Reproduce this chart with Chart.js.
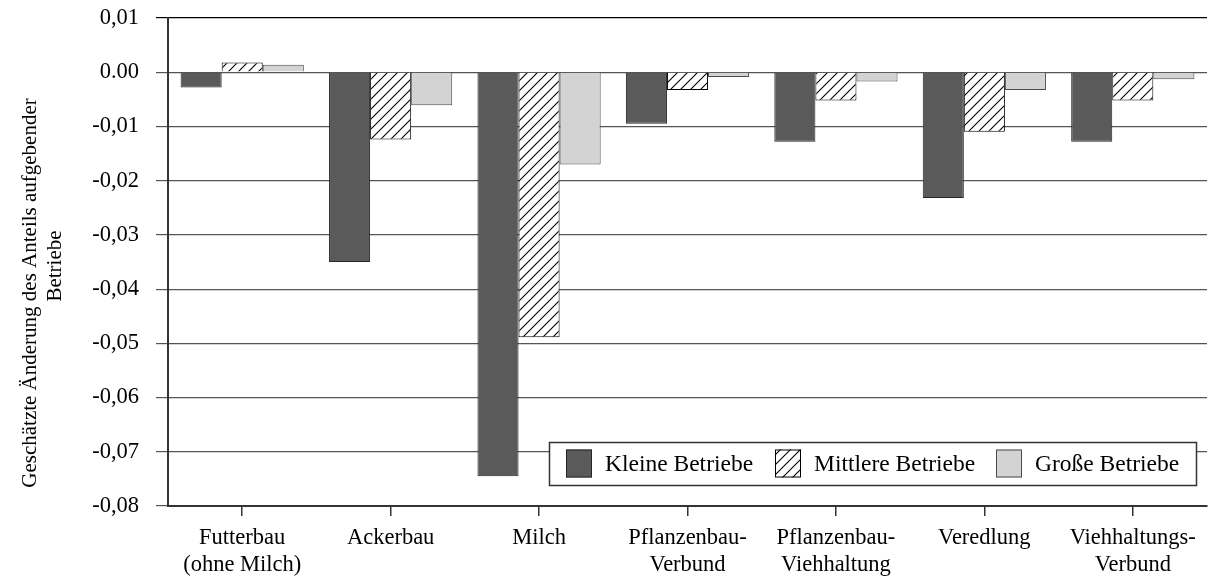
<!DOCTYPE html>
<html>
<head>
<meta charset="utf-8">
<script src="https://cdn.jsdelivr.net/npm/chart.js@4/dist/chart.umd.min.js"></script>
<style>
  html, body { margin: 0; padding: 0; background: #fff; }
  canvas { display: block; }
</style>
</head>
<body>
<canvas id="chart" width="1209" height="578"></canvas>
<script>
const categories = [
    ['Futterbau', '(ohne Milch)'],
    'Ackerbau',
    'Milch',
    ['Pflanzenbau-', 'Verbund'],
    ['Pflanzenbau-', 'Viehhaltung'],
    'Veredlung',
    ['Viehhaltungs-', 'Verbund']
];
const seriesNames = ['Kleine Betriebe', 'Mittlere Betriebe', 'Große Betriebe'];
const kleine = [-0.0028, -0.035, -0.0745, -0.0095, -0.0128, -0.0232, -0.0128];
const mittlere = [0.0018, -0.0124, -0.0489, -0.0033, -0.0052, -0.011, -0.0052];
const grosse = [0.0014, -0.0061, -0.017, -0.0009, -0.0017, -0.0033, -0.0013];
const yAxisTitle = ['Geschätzte Änderung des Anteils aufgebender', 'Betriebe'];

const FONT = 'Liberation Serif, "Times New Roman", serif';

// Schraffur für die mittleren Betriebe
function makeHatch() {
    const c = document.createElement('canvas');
    c.width = 10;
    c.height = 10;
    const g = c.getContext('2d');
    g.fillStyle = '#fff';
    g.fillRect(0, 0, 10, 10);
    g.strokeStyle = '#000';
    g.lineWidth = 1.1;
    g.beginPath();
    g.moveTo(-1, 11); g.lineTo(11, -1);
    g.moveTo(-6, 6); g.lineTo(6, -6);
    g.moveTo(4, 16); g.lineTo(16, 4);
    g.stroke();
    return g.createPattern(c, 'repeat');
}
const hatch = makeHatch();

// Achsentitel: zwei Zeilen, jeweils einzeln zentriert wie im Original
const yTitle = {
    id: 'yTitle',
    afterDraw(chart) {
        const ctx = chart.ctx;
        const pos = [[30, 293], [55, 266]];
        ctx.save();
        ctx.font = '21px ' + FONT;
        ctx.fillStyle = '#000';
        ctx.textAlign = 'center';
        ctx.textBaseline = 'middle';
        yAxisTitle.forEach((line, i) => {
            ctx.save();
            ctx.translate(pos[i][0], pos[i][1]);
            ctx.rotate(-Math.PI / 2);
            ctx.fillText(line, 0, 0);
            ctx.restore();
        });
        ctx.restore();
    }
};

// Legende innerhalb der Zeichenfläche, unten rechts
const boxLegend = {
    id: 'boxLegend',
    afterDraw(chart) {
        const ctx = chart.ctx;
        const x0 = 549, y0 = 442, x1 = 1196, y1 = 485;
        ctx.save();
        ctx.fillStyle = '#fff';
        ctx.fillRect(x0, y0, x1 - x0, y1 - y0);
        ctx.strokeStyle = '#333';
        ctx.lineWidth = 1.5;
        ctx.strokeRect(x0 + 0.5, y0 + 0.5, x1 - x0, y1 - y0);
        ctx.font = '23.5px ' + FONT;
        ctx.textBaseline = 'middle';
        const cy = (y0 + y1) / 2;
        const swatchX = [566, 775, 996];
        chart.data.datasets.forEach((ds, i) => {
            const sx = swatchX[i];
            ctx.fillStyle = ds.backgroundColor;
            ctx.fillRect(sx, cy - 14, 26, 28);
            ctx.strokeStyle = ds.borderColor;
            ctx.lineWidth = 1;
            ctx.strokeRect(sx + 0.5, cy - 13.5, 25, 27);
            ctx.fillStyle = '#000';
            ctx.fillText(ds.label, sx + 39, cy + 1);
        });
        ctx.restore();
    }
};

const ctx = document.getElementById('chart').getContext('2d');
new Chart(ctx, {
    type: 'bar',
    data: {
        labels: categories,
        datasets: [{
            label: seriesNames[0],
            data: kleine,
            backgroundColor: '#5a5a5a',
            borderColor: '#262626',
            borderWidth: 1
        }, {
            label: seriesNames[1],
            data: mittlere,
            backgroundColor: hatch,
            borderColor: '#000',
            borderWidth: 1
        }, {
            label: seriesNames[2],
            data: grosse,
            backgroundColor: '#d3d3d3',
            borderColor: '#4a4a4a',
            borderWidth: 1
        }]
    },
    options: {
        responsive: false,
        animation: false,
        devicePixelRatio: 1,
        layout: { padding: { left: 0, top: 18, right: 2, bottom: 0 } },
        categoryPercentage: 0.83,
        barPercentage: 1.0,
        plugins: {
            legend: { display: false },
            tooltip: { enabled: false }
        },
        scales: {
            x: {
                grid: {
                    offset: false,
                    drawOnChartArea: false,
                    tickLength: 10,
                    color: '#333',
                    lineWidth: 1.5
                },
                border: { color: '#333', width: 2 },
                ticks: {
                    color: '#000',
                    font: { family: FONT, size: 22.5 },
                    maxRotation: 0,
                    autoSkip: false,
                    padding: 9
                },
                afterFit: s => { s.height = 72; }
            },
            y: {
                min: -0.08,
                max: 0.01,
                grid: {
                    color: c => c.tick && Math.abs(c.tick.value - 0.01) < 1e-9 ? '#000' : '#555',
                    lineWidth: 1.2,
                    tickLength: 12
                },
                border: { color: '#333', width: 2 },
                ticks: {
                    stepSize: 0.01,
                    color: '#000',
                    padding: 17,
                    font: { family: FONT, size: 22.5 },
                    callback: v => Math.abs(v) < 1e-9 ? '0.00' : v.toFixed(2).replace('.', ',')
                },
                afterFit: s => {
                    s.width = 168;
                    s.paddingTop = 0;
                    s.paddingBottom = 0;
                }
            }
        }
    },
    plugins: [yTitle, boxLegend]
});
</script>
</body>
</html>
